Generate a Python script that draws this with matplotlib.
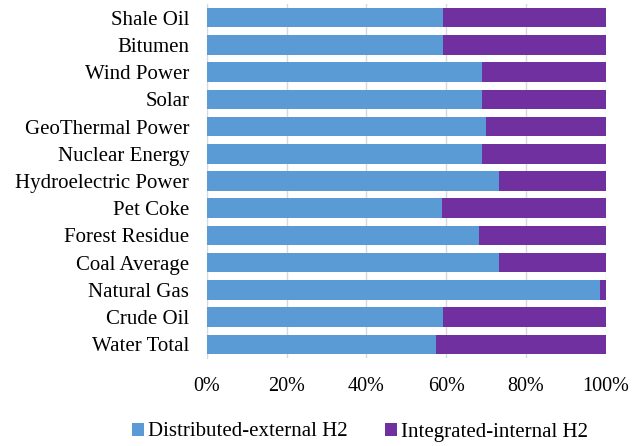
import matplotlib
matplotlib.use("Agg")
import matplotlib.pyplot as plt
import matplotlib.ticker as ticker
import numpy as np

plt.rcParams["font.family"] = ["Liberation Serif", "DejaVu Serif"]

categories = [
    "Shale Oil", "Bitumen", "Wind Power", "Solar", "GeoThermal Power",
    "Nuclear Energy", "Hydroelectric Power", "Pet Coke", "Forest Residue",
    "Coal Average", "Natural Gas", "Crude Oil", "Water Total",
]
distributed = [59.1, 59.1, 69.0, 68.9, 69.9, 68.9, 73.4, 59.0, 68.3, 73.4, 98.6, 59.1, 57.4]
integrated = [100 - v for v in distributed]

fig = plt.figure(figsize=(6.34, 4.46), dpi=100)
ax = fig.add_axes([207 / 634, 1 - 358 / 446, 398.5 / 634, 354 / 446])

y = np.arange(len(categories))
ax.barh(y, distributed, height=0.72, color="#5B9BD5", label="Distributed-external H2", zorder=3)
ax.barh(y, integrated, left=distributed, height=0.72, color="#7030A0",
        label="Integrated-internal H2", zorder=3)

ax.set_ylim(len(categories) - 0.5, -0.5)
ax.set_xlim(0, 100)
ax.set_yticks(y)
ax.set_yticklabels(categories, fontsize=15)
ax.xaxis.set_major_locator(ticker.MultipleLocator(20))
ax.xaxis.set_major_formatter(ticker.FuncFormatter(lambda v, p: "%d%%" % v))
ax.tick_params(axis="x", labelsize=14.5, length=0, pad=14)
ax.tick_params(axis="y", length=0, pad=12.7)
ax.grid(axis="x", color="#D9D9D9", linewidth=1, zorder=0)
for s in ["top", "right", "bottom"]:
    ax.spines[s].set_visible(False)
ax.spines["left"].set_color("#D9D9D9")

fig.legend(loc="center", bbox_to_anchor=(360 / 634, 1 - 432 / 446), ncol=2, frameon=False,
           fontsize=15, handlelength=0.58, handleheight=0.58, handletextpad=0.2,
           columnspacing=1.8)

plt.savefig("out.png", dpi=100)
